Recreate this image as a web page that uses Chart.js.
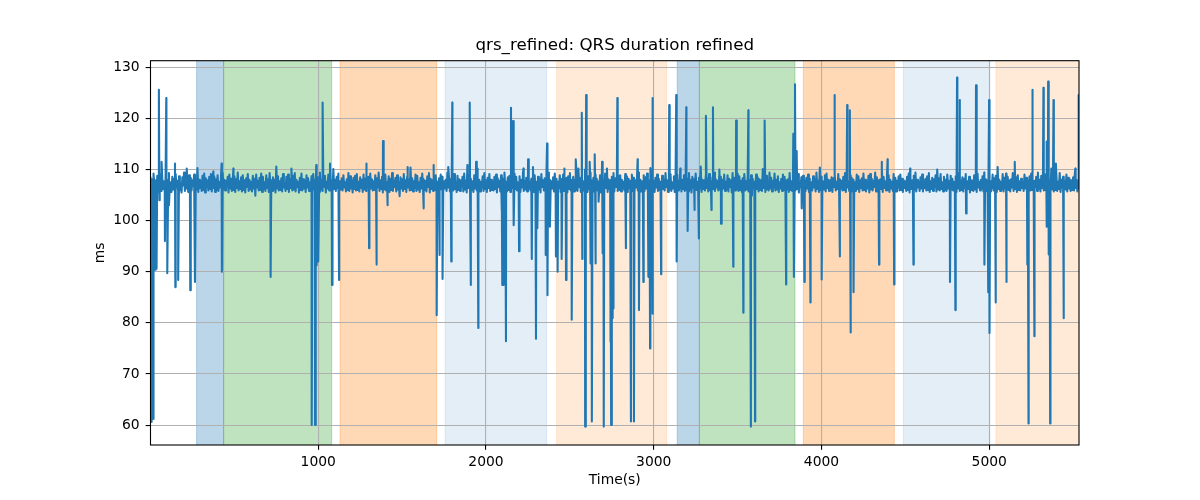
<!DOCTYPE html>
<html><head><meta charset="utf-8">
<script src="https://cdn.jsdelivr.net/npm/chart.js@4.4.1/dist/chart.umd.min.js"></script>
<style>html,body{margin:0;padding:0;background:#fff;}canvas{display:block;}</style>
</head><body>
<canvas id="c" width="1200" height="500"></canvas>
<script>
const chartTitle = 'qrs_refined: QRS duration refined';
const sampleStart = 0;
const sampleStep = 5;
const baseline = [
108.6,105.9,108.1,106.3,109.2,105.7,107.9,106.0,108.8,105.5,107.4,106.6,109.0,105.8,108.3,106.2,107.7,105.6,108.9,106.4,
108.0,105.9,109.3,106.7,107.5,105.6,108.6,106.1,108.2,105.8,109.1,106.5,107.8,105.7,108.7,106.0,107.3,105.5,108.5,106.9,
109.4,105.8,108.1,106.3,107.6,105.6,108.9,106.2,108.4,105.9,107.9,106.8,109.0,105.7,108.2,106.1,110.3,105.6,108.0,106.4,
107.7,105.8,108.8,106.0,109.2,105.5,108.3,106.6,107.9,105.9,108.6,106.2,109.1,105.7,107.5,106.4,108.7,105.6,108.1,106.0,
108.9,105.8,107.6,106.5,108.4,105.6,109.3,106.1,108.0,105.9,107.8,106.7,108.6,105.5,109.0,106.3,108.2,105.8,107.4,106.0,
108.7,105.6,108.1,106.4,109.4,105.9,107.7,106.2,108.5,105.7,108.9,106.0,107.9,105.5,108.3,106.6,109.1,105.8,108.0,106.1,
107.6,105.7,108.8,106.3,108.2,104.9,109.0,106.5,107.8,105.9,108.4,106.0,109.2,105.6,108.6,106.2,107.5,105.8,108.9,106.4,
108.1,105.6,109.3,106.7,107.9,105.8,108.5,106.1,108.0,105.5,110.6,106.3,108.7,105.9,107.7,106.0,108.3,105.7,109.1,106.5,
107.4,105.8,108.6,106.2,109.0,105.6,108.2,106.4,107.9,105.9,108.8,106.1,109.3,105.7,108.0,106.6,107.6,105.5,108.4,106.0,
109.2,105.9,108.1,106.3,107.8,105.6,108.9,106.5,108.3,105.8,107.5,106.0,108.7,105.7,109.1,106.2,108.0,105.9,107.7,106.4,
108.5,105.6,109.4,106.1,107.9,105.8,108.2,106.6,108.8,105.5,107.6,106.3,109.0,105.9,108.4,106.0,107.8,105.7,110.1,106.2,
108.0,105.8,108.6,106.4,109.2,105.6,107.7,106.1,108.3,105.9,108.9,106.5,107.5,105.7,108.1,106.0,109.3,105.8,108.7,106.3,
107.9,105.5,108.4,106.2,108.8,105.9,109.1,106.0,107.6,105.7,108.5,106.4,108.0,105.6,109.0,106.1,108.2,105.8,107.8,106.6,
108.6,105.7,109.2,106.3,108.1,105.9,107.7,106.0,108.9,105.6,108.3,106.5,109.4,105.8,107.9,106.2,108.6,105.5,108.0,106.1,
109.0,105.9,107.5,106.4,108.7,105.6,108.2,106.0,109.3,105.8,107.8,106.6,108.4,105.7,108.9,106.1,107.6,104.8,108.5,106.3,
108.1,105.8,109.1,106.2,107.9,105.6,108.6,106.5,108.0,105.9,110.4,106.0,108.3,105.7,107.7,106.4,109.0,105.8,108.8,106.1,
107.5,105.6,108.4,106.3,109.2,105.9,108.1,106.0,107.8,105.7,108.7,106.6,109.3,105.5,108.2,106.2,107.9,105.8,108.5,106.0,
108.9,105.7,107.6,106.4,108.3,105.9,109.0,106.1,108.6,105.6,107.7,106.3,108.0,105.8,109.4,106.5,108.2,105.7,107.9,106.0,
108.4,105.9,109.1,106.2,107.5,105.6,108.8,106.0,108.1,105.8,107.9,106.7,108.6,105.7,109.2,106.1,107.8,105.5,108.3,106.4,
109.0,105.8,108.2,106.0,107.7,105.6,108.9,106.3,108.5,105.9,110.2,106.1,108.0,105.7,107.6,106.5,108.7,105.8,109.3,106.2,
107.9,105.6,108.4,106.4,109.1,105.8,108.0,106.0,107.7,105.9,108.6,106.2,109.0,105.5,108.3,106.6,107.8,105.7,108.9,106.1,
108.2,105.9,109.4,106.3,107.6,105.7,108.5,106.0,108.8,105.6,107.9,106.4,108.1,105.8,109.2,106.2,108.6,105.9,107.5,106.0,
108.7,105.6,108.0,106.5,109.3,105.8,107.8,106.1,108.4,105.7,109.0,106.3,107.7,105.9,108.2,106.0,110.5,105.6,108.9,106.4,
107.6,105.8,108.6,106.1,108.1,105.5,109.1,106.6,107.9,105.9,108.3,106.2,108.8,105.7,109.4,106.0,108.0,105.8,107.7,106.3,
108.5,105.7,109.2,106.0,108.2,105.9,107.6,106.4,108.9,105.6,108.1,106.1,109.0,105.8,107.8,106.5,108.4,105.5,108.7,106.2,
109.3,105.9,107.9,106.3,108.6,105.7,108.0,106.0,109.1,105.8,107.5,106.6,108.3,105.6,108.8,106.1,107.7,105.9,110.0,106.4,
108.1,105.6,108.7,106.2,109.4,105.8,107.8,106.0,108.4,105.7,109.0,106.5,108.2,105.9,107.6,106.3,108.9,105.5,108.0,106.1,
107.7,105.8,109.2,106.4,108.5,105.6,108.1,106.2,107.9,105.9,108.6,106.0,109.3,105.7,108.3,106.6,107.5,105.8,108.8,106.0,
108.9,105.7,108.0,106.3,107.6,105.9,109.1,106.1,108.7,105.6,108.2,106.4,107.8,105.8,109.0,106.0,108.4,105.5,107.9,106.5,
108.3,105.9,109.4,106.2,108.0,105.7,107.7,106.0,108.9,105.8,108.5,106.3,109.2,105.6,107.9,106.1,110.3,105.9,108.6,106.4,
107.8,105.6,108.4,106.5,109.0,105.8,108.2,106.0,107.6,105.7,108.8,106.2,108.1,105.9,109.3,106.6,107.9,105.6,108.5,106.1,
109.1,105.8,107.5,106.3,108.7,105.6,108.3,106.0,109.0,105.9,107.8,106.4,108.6,105.7,108.0,106.2,108.9,105.8,107.7,106.0,
108.2,105.7,109.3,106.1,107.9,105.5,108.6,106.5,108.1,105.9,109.2,106.0,107.6,105.8,108.4,106.3,110.6,105.6,108.0,106.2,
107.9,105.9,108.8,106.4,108.3,105.7,109.1,106.0,107.7,105.6,108.5,106.2,109.4,105.8,108.1,106.5,107.8,105.9,108.7,106.1,
108.6,105.6,108.0,106.3,109.0,105.8,107.6,106.1,108.9,105.7,108.2,106.6,107.9,105.5,109.3,106.0,108.4,105.9,107.5,106.2,
109.2,105.8,108.7,106.0,107.8,105.6,108.3,106.4,109.1,105.9,107.7,106.1,108.6,105.7,108.0,106.3,108.9,104.9,108.2,106.5,
107.6,105.9,109.0,106.2,108.5,105.7,108.1,106.0,107.9,105.8,110.1,106.4,108.3,105.6,108.8,106.1,107.7,105.9,109.4,106.3,
108.4,105.7,107.8,106.5,109.2,105.9,108.0,106.1,108.7,105.6,107.5,106.3,108.2,105.8,109.0,106.0,108.6,105.7,107.9,106.2,
108.1,105.6,109.3,106.0,107.7,105.8,108.9,106.4,108.3,105.9,108.0,106.2,109.1,105.5,107.6,106.6,108.5,105.8,108.8,106.1,
107.9,105.8,108.4,106.3,109.0,105.6,108.2,106.0,107.5,105.9,108.7,106.5,108.1,105.7,109.4,106.2,107.8,105.6,110.4,106.0,
108.6,105.9,107.7,106.1,108.9,105.7,109.2,106.4,108.0,105.8,107.9,106.0,108.5,105.6,108.3,106.6,109.0,105.9,107.6,106.2,
109.1,105.7,108.1,106.3,107.8,105.9,108.6,106.0,109.3,105.6,108.2,106.5,107.7,105.8,108.9,106.1,108.4,105.7,108.0,106.3,
107.5,105.8,109.0,106.2,108.7,105.6,107.9,106.4,108.3,105.9,109.2,106.0,108.0,105.7,107.6,106.3,108.8,105.5,109.1,106.1,
108.2,105.9,107.8,106.6,109.4,105.7,108.5,106.0,107.9,105.8,108.1,106.2,110.2,105.6,108.6,106.4,107.7,105.9,108.3,106.0,
108.9,105.6,108.0,106.3,107.6,105.8,109.1,106.1,108.4,105.7,107.8,106.5,108.7,105.9,109.0,106.0,108.2,105.6,107.9,106.4,
107.7,105.8,108.6,106.0,109.2,105.5,108.3,106.2,107.9,105.9,108.8,106.1,109.4,105.7,108.0,106.5,107.6,105.8,108.5,106.3,
109.0,105.7,107.9,106.4,108.2,105.9,108.7,106.0,109.3,105.6,107.7,106.2,108.4,105.8,108.1,106.6,108.9,105.7,110.0,106.1,
108.3,105.9,109.1,106.2,107.5,105.7,108.6,106.0,108.0,105.8,109.0,106.3,107.8,105.6,108.8,106.1,108.2,105.9,107.6,106.5,
108.7,105.6,108.1,106.3,109.3,105.8,107.9,106.0,108.5,105.7,108.2,106.4,109.1,105.9,107.7,106.2,108.6,105.5,108.0,106.0,
107.8,105.8,108.9,106.1,108.4,105.6,109.2,106.5,107.6,105.9,108.0,106.3,108.7,105.7,109.4,106.0,108.1,105.8,107.9,106.2,
108.5,105.7,107.7,106.4,109.0,105.9,108.3,106.0,108.8,105.6,110.5,106.2,108.0,105.8,107.6,106.1,109.1,105.7,108.4,106.3,
109.2,105.9,108.6,106.0,107.9,105.7,108.1,106.5,109.3,105.8,107.8,106.2,108.5,105.6,108.9,106.0,107.7,105.9,108.2,106.4,
107.6,105.8,109.0,106.3,108.4,105.6,107.9,106.1,108.7,105.9,109.2,106.0,108.1,105.7,107.8,106.6,108.6,105.8,109.4,106.2,
108.0,105.7,108.8,106.4,107.7,105.9,109.1,106.0,108.3,105.6,108.5,106.3,107.9,105.8,110.2,106.1,108.2,105.7,108.7,106.0,
108.9,105.8,107.6,106.2,109.3,105.6,108.0,106.5,108.6,105.9,107.8,106.1,109.0,105.7,108.4,106.3,108.1,105.8,107.9,106.0,
108.5,105.9,109.2,106.4,108.0,105.7,107.7,106.1,108.8,105.6,109.1,106.2,108.3,105.8,107.9,106.5,108.6,105.7,109.0,106.2
];
const spikes = [
[4,90.2],[8,60.6],[12,91],[15,61.2],[19,90],[23,107],[27,90.4],[31,92],[36,90.6],[50,125.6],[53,104],[66,111.5],[86,96],[94,124],[100,89.7],[110,103],[146,111.2],[148,87],[165,88.4],[216,110.2],[237,86.4],[265,88],[374,109.6],[424,111.2],[426,90],[494,110.2],[716,89],[840,110.2],
[961,60],[966,107],[981,60],[988,110.9],[991,91.3],[1000,92],[1026,123.1],[1070,111.2],[1082,87.4],[1124,88.4],[1285,111.2],[1303,94.6],[1346,91.4],[1386,115.6],[1412,103],[1531,110.5],[1627,102.4],[1686,110.9],[1706,81.5],[1722,93.3],[1741,88.6],[1775,110.5],[1793,92],[1799,123.1],
[1889,110.9],[1903,123.1],[1909,87.4],[1941,111.5],[1954,79],[2093,102],[2097,87.4],[2101,103],[2105,87.4],[2119,76.4],[2149,122.1],[2161,119.5],[2165,99.1],[2197,94],[2223,110.2],[2251,112],[2273,92.5],[2298,76.9],[2306,98.5],[2356,93.3],[2364,115.1],[2368,85.4],[2381,98.8],[2417,93],[2427,90],[2451,92.5],[2465,110.2],[2477,88.4],[2511,80.6],[2535,112],[2551,110.2],[2571,121.1],[2574,92.5],[2591,59.7],[2597,124.6],[2618,111.5],[2622,91.6],[2631,60.7],[2648,113],[2652,91.6],[2671,103.7],[2692,111.5],[2696,93.6],[2702,59.7],[2721,110.2],[2740,76.3],[2746,60],[2752,80.9],[2759,82.8],
[2783,124],[2834,94.6],[2864,60.7],[2869,107],[2882,60.7],[2904,112],[2912,82.5],[2938,88],[2968,89],[2978,75],[2991,124],[2994,81.8],[3044,89.5],[3092,122.6],[3134,124.6],[3138,92],[3158,110.2],[3194,122.2],[3202,98],[3242,102.1],[3269,96.5],[3311,120.5],[3344,102.1],[3353,122.2],[3391,110],[3401,99.4],[3474,91],[3491,119.6],[3534,82],[3564,121.6],[3579,59.7],[3604,60.7],[3661,119.6],
[3789,87.5],[3832,117],[3836,89],[3842,126.7],[3852,113.6],[3882,102.4],[3898,88],[3934,84],[4001,88.5],[4077,124.6],[4109,93],[4153,122.6],[4169,121.6],[4173,78.1],[4191,86],[4343,91.4],[4359,111.5],[4394,112],[4433,87.5],[4528,110.2],[4548,91.4],
[4766,88],[4798,82.5],[4808,128],[4824,123.6],[4862,101.4],[4921,126.5],[4971,91.4],[4994,86],[4999,123.6],[5003,78],[5037,84],[5101,88],[5152,111.5],[5227,91.4],[5234,60.3],[5256,125.6],[5269,77.4],[5323,126],[5341,115.5],[5344,98.8],[5351,127.2],[5354,93.4],[5363,60.3],[5383,123.6],[5397,111.2],[5443,80.9],[5513,110.2],[5533,124.6]
];
const xTicks = [1000, 2000, 3000, 4000, 5000];
const yTicks = [60, 70, 80, 90, 100, 110, 120, 130];
const blueSpans = [[275, 436], [3140, 3272]];
const greenSpans = [[436, 1080], [3272, 3842]];
const orangeSpans = [[1130, 1706], [3892, 4434]];
const lightBlueSpans = [[1756, 2362], [4488, 5000]];
const lightOrangeSpans = [[2421, 3077], [5040, 5600]];

const spanGroups = [
  {spans: blueSpans, color: 'rgba(31,119,180,0.3)'},
  {spans: greenSpans, color: 'rgba(44,160,44,0.3)'},
  {spans: orangeSpans, color: 'rgba(255,127,14,0.3)'},
  {spans: lightBlueSpans, color: 'rgba(31,119,180,0.12)'},
  {spans: lightOrangeSpans, color: 'rgba(255,127,14,0.16)'}
];

const points = baseline.map((v, i) => ({x: sampleStart + i * sampleStep, y: v}))
  .concat(spikes.map(([t, v]) => ({x: t, y: v})))
  .sort((a, b) => a.x - b.x);

const FONT = 'DejaVu Sans';
const spanPlugin = {
  id: 'spans',
  beforeDraw(chart) {
    const {ctx, chartArea: a, scales: {x}} = chart;
    ctx.save();
    ctx.beginPath();
    ctx.rect(a.left, a.top, a.right - a.left, a.bottom - a.top);
    ctx.clip();
    spanGroups.forEach(g => {
      g.spans.forEach(([s, e]) => {
        const x0 = x.getPixelForValue(s), x1 = x.getPixelForValue(e);
        ctx.fillStyle = g.color;
        ctx.fillRect(x0, a.top, x1 - x0, a.bottom - a.top);
        ctx.strokeStyle = g.color;
        ctx.lineWidth = 1;
        ctx.beginPath();
        ctx.moveTo(x0, a.top); ctx.lineTo(x0, a.bottom);
        ctx.moveTo(x1, a.top); ctx.lineTo(x1, a.bottom);
        ctx.stroke();
      });
    });
    ctx.restore();
  },
  afterDatasetsDraw(chart) {
    const {ctx, chartArea: a} = chart;
    ctx.save();
    ctx.strokeStyle = '#000';
    ctx.lineWidth = 1.1;
    ctx.strokeRect(a.left, a.top, a.right - a.left, a.bottom - a.top);
    ctx.restore();
  },
  afterDraw(chart) {
    const {ctx, chartArea: a} = chart;
    ctx.save();
    ctx.fillStyle = '#000';
    ctx.font = '16.67px "DejaVu Sans"';
    ctx.textAlign = 'center';
    ctx.textBaseline = 'middle';
    ctx.fillText(chartTitle, (a.left + a.right) / 2, 46);
    ctx.restore();
  }
};

const tickFont = {family: FONT, size: 13.89};
new Chart(document.getElementById('c'), {
  type: 'line',
  data: {datasets: [{
    data: points,
    borderColor: '#1f77b4',
    borderWidth: 2.08,
    pointRadius: 0,
    tension: 0,
    fill: false,
    borderJoinStyle: 'round'
  }]},
  options: {
    responsive: false,
    animation: false,
    devicePixelRatio: 1,
    parsing: false,
    layout: {padding: {left: 0, right: 121, top: 60.7, bottom: 0}},
    plugins: {
      legend: {display: false},
      tooltip: {enabled: false},
      title: {display: false}
    },
    scales: {
      x: {
        type: 'linear', min: 0, max: 5535,
        afterBuildTicks: s => { s.ticks = xTicks.map(v => ({value: v})); },
        afterFit: s => { s.height = 55; },
        grid: {color: '#b0b0b0', lineWidth: 1.1, tickColor: '#000', tickLength: 4.86, tickWidth: 1.1},
        border: {display: false},
        ticks: {color: '#000', font: tickFont, padding: 4.5, maxRotation: 0, autoSkip: false, callback: v => String(v)},
        title: {display: true, text: 'Time(s)', color: '#000', font: tickFont, padding: {top: 0, bottom: 11}}
      },
      y: {
        type: 'linear', min: 56.1, max: 131.3,
        afterBuildTicks: s => { s.ticks = yTicks.map(v => ({value: v})); },
        afterFit: s => { s.width = 150.5; },
        grid: {color: '#b0b0b0', lineWidth: 1.1, tickColor: '#000', tickLength: 4.86, tickWidth: 1.1},
        border: {display: false},
        ticks: {color: '#000', font: tickFont, padding: 6, autoSkip: false, callback: v => String(v)},
        title: {display: true, text: 'ms', color: '#000', font: tickFont, padding: {top: 92.5, bottom: 0}}
      }
    }
  },
  plugins: [spanPlugin]
});
</script>
</body></html>
